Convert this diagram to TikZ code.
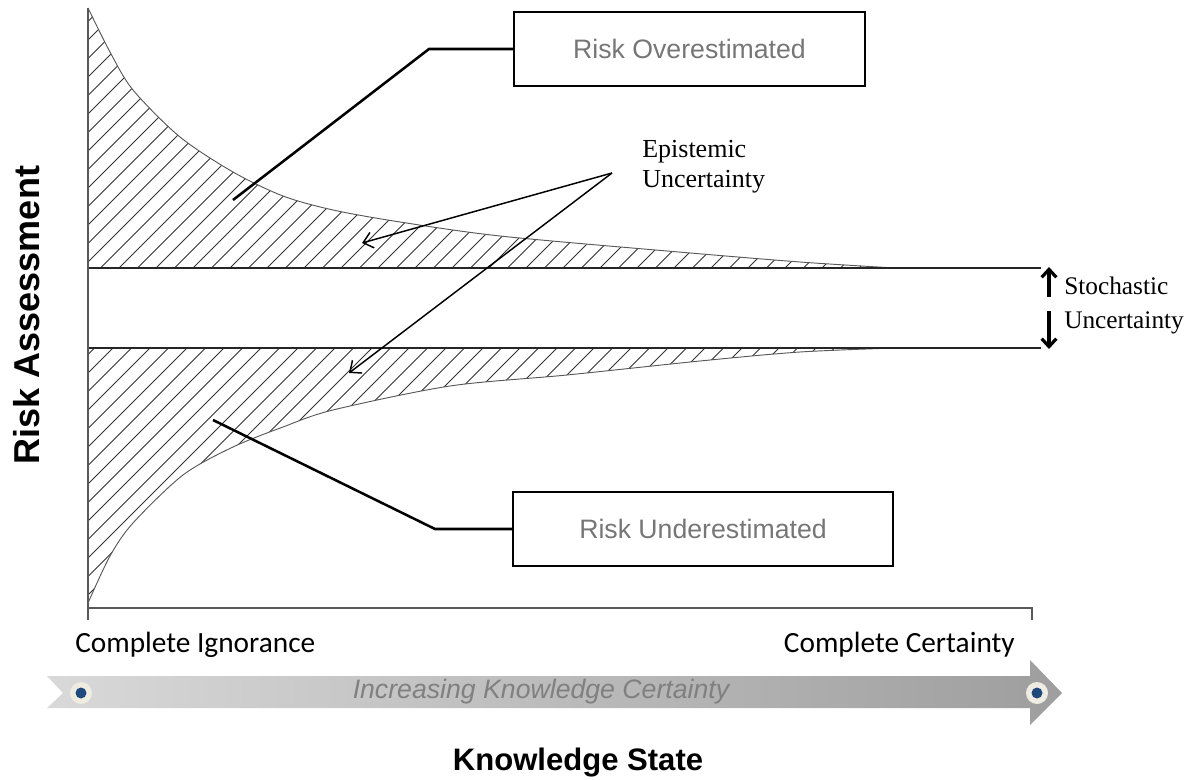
\documentclass[tikz,border=0pt]{standalone}
\usepackage{fontspec}
\usetikzlibrary{arrows.meta}
\newfontfamily\arialfont{Liberation Sans}
\newfontfamily\timesfont{Liberation Serif}
\newfontfamily\calibrifont{Carlito}
\definecolor{axisgray}{HTML}{595959}
\definecolor{boxtext}{HTML}{767676}
\definecolor{dotblue}{HTML}{1F497D}
\definecolor{dotcream}{HTML}{EEECE1}

\begin{document}
\begin{tikzpicture}[x=0.75pt,y=-0.75pt,
    axis/.style={draw=axisgray,line width=1.1pt},
    level/.style={draw=black!85,line width=0.9pt},
    curve/.style={draw=black!65,line width=0.7pt},
    hatch/.style={draw=black!80,line width=0.55pt},
    estbox/.style={draw,line width=1.5pt,minimum height=55.5pt,inner sep=0pt,text=boxtext,font=\arialfont\fontsize{20}{24}\selectfont},
    leader/.style={line width=1.9pt},
    epiarrow/.style={line width=1.1pt,-{Straight Barb[length=7pt,width=12pt]}},
    stocharrow/.style={line width=2.4pt,-{Straight Barb[length=6pt,width=11pt]}}]
    \useasboundingbox (0,0) rectangle (1199,780);
    % hatched areas
    \begin{scope}
        \clip (88,268) -- plot[smooth] coordinates {(88,8) (110,52) (133,90) (180,137) (233,172) (283,196) (333,210) (400,222) (500,236) (667,251) (800,262) (895,268)} -- cycle;
        \foreach \c in {-640,-621.5,...,1000} \draw[hatch] (\c,620) -- ++(640,-640);
    \end{scope}
    \begin{scope}
        \clip (88,348) -- plot[smooth] coordinates {(88,603) (110,556) (133,523) (183,475) (233,447) (283,427) (333,410) (450,386) (567,375) (700,361) (800,352) (895,348)} -- cycle;
        \foreach \c in {-640,-621.5,...,1000} \draw[hatch] (\c,620) -- ++(640,-640);
    \end{scope}
    \draw[curve] plot[smooth] coordinates {(88,8) (110,52) (133,90) (180,137) (233,172) (283,196) (333,210) (400,222) (500,236) (667,251) (800,262) (895,268)};
    \draw[curve] plot[smooth] coordinates {(88,603) (110,556) (133,523) (183,475) (233,447) (283,427) (333,410) (450,386) (567,375) (700,361) (800,352) (895,348)};
    % axes and levels
    \draw[level] (88,268) -- (1041,268);
    \draw[level] (88,348) -- (1041,348);
    \draw[axis] (88,8) -- (88,620);
    \draw[axis] (88,608) -- (1032,608) -- (1032,620);
    % boxes
    \node[estbox,minimum width=263pt] (over) at (689.5,49) {Risk Overestimated};
    \node[estbox,minimum width=285pt] (under) at (703,529) {Risk Underestimated};
    \coordinate (overbend) at (429,49);
    \coordinate (overpt) at (233,200);
    \coordinate (underbend) at (435,529);
    \coordinate (underpt) at (213,420);
    \draw[leader] (over.west) -- (overbend) -- (overpt);
    \draw[leader] (under.west) -- (underbend) -- (underpt);
    % epistemic
    \node[anchor=base west,align=left,inner sep=0pt,font=\timesfont\fontsize{19.5}{22.5}\selectfont] (epilabel) at (642,188) {Epistemic\\Uncertainty};
    \coordinate (epi) at (612,173);
    \coordinate (epiup) at (362,243);
    \coordinate (epidown) at (349,373);
    \draw[epiarrow] (epi) -- (epiup);
    \draw[epiarrow] (epi) -- (epidown);
    % stochastic
    \coordinate (stochA) at (1049,297);
    \coordinate (stochB) at (1049,267);
    \coordinate (stochC) at (1049,311);
    \coordinate (stochD) at (1049,349);
    \draw[stocharrow] (stochA) -- (stochB);
    \draw[stocharrow] (stochC) -- (stochD);
    \node[anchor=base west,align=left,inner sep=0pt,font=\timesfont\fontsize{19}{25.5}\selectfont] (stochlabel) at (1064,329) {Stochastic\\Uncertainty};
    % knowledge bar
    \node[anchor=base west,inner sep=0pt,font=\calibrifont\fontsize{22}{26}\selectfont] (ignorance) at (75,652) {Complete Ignorance};
    \node[anchor=base east,inner sep=0pt,font=\calibrifont\fontsize{22}{26}\selectfont] (certainty) at (1015,652) {Complete Certainty};
    \shade[left color=black!15,right color=black!38] (47,676) -- (1030,676) -- (1030,660) -- (1062,693) -- (1030,725) -- (1030,708) -- (47,708) -- (63,693) -- cycle;
    \foreach \x/\n in {81/startdot,1037/enddot} {
        \fill[dotcream] (\x,693) circle[radius=11];
        \fill[dotblue] (\x,693) circle[radius=5.5] coordinate (\n);
    }
    \node[font=\arialfont\itshape\fontsize{20}{24}\selectfont,text=black!50] (increasing) at (541,692) {Increasing Knowledge Certainty};
    \node[font=\arialfont\bfseries\fontsize{23.3}{28}\selectfont] (xlabel) at (578,763) {Knowledge State};
    \node[rotate=90,font=\arialfont\bfseries\fontsize{27}{32}\selectfont] (ylabel) at (27,315) {Risk Assessment};
\end{tikzpicture}
\end{document}
